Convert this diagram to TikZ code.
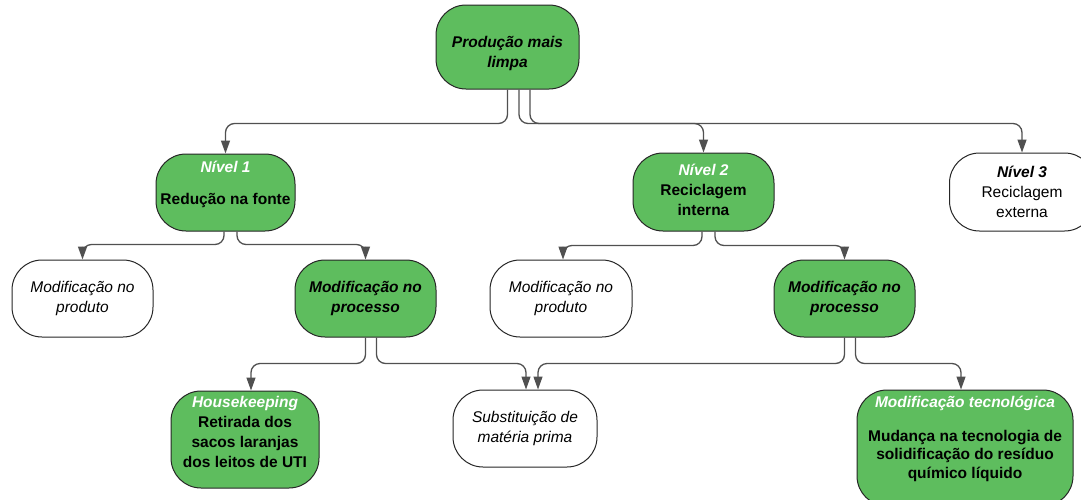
\documentclass[tikz,border=0pt]{standalone}
\usepackage{fontspec}
\setmainfont{Liberation Sans}
\usepackage{xcolor}
\usetikzlibrary{positioning,arrows.meta}
\definecolor{leafgreen}{RGB}{94,189,94}
\definecolor{edgegray}{RGB}{80,80,80}
\newcommand\chartfont{\fontsize{15.5}{20}\selectfont}

\begin{document}
\begin{tikzpicture}[
    x=1pt, y=-1pt,
    box/.style={rectangle, draw=black!85, line width=1pt, fill=white, rounded corners=30pt, align=center, inner sep=2pt, font=\chartfont, minimum width=141pt, minimum height=77pt},
    greenbox/.style={box, fill=leafgreen},
    bolditalic/.style={font=\chartfont\bfseries\itshape},
    boldtext/.style={font=\chartfont\bfseries},
    italictext/.style={font=\chartfont\itshape},
    arrow/.style={-{Triangle[width=9pt,length=13pt]}, draw=edgegray, line width=1.3pt, rounded corners=9pt}
]
    \useasboundingbox (0,0) rectangle (1081,499);

    \node[greenbox, bolditalic, minimum width=143pt, minimum height=84pt] (pml) at (507.5,47) {\rule{0pt}{24pt}Produção mais\\limpa};
    \node[greenbox, boldtext, minimum width=139pt] (nivel1) at (225.5,192.5) {{\color{white}\itshape Nível 1}\\[12pt]Redução na fonte\rule[-20pt]{0pt}{0pt}};
    \node[greenbox, boldtext, minimum height=78pt] (nivel2) at (703.5,192) {{\color{white}\itshape Nível 2}\\Reciclagem\\interna\rule[-5pt]{0pt}{0pt}};
    \node[box, minimum width=145pt, minimum height=78pt] (nivel3) at (1022,192) {{\bfseries\itshape Nível 3}\\Reciclagem\\externa};

    \node[box, italictext] (prodA) at (82.5,298.5) {Modificação no\\produto};
    \node[greenbox, bolditalic] (procA) at (365.5,298.5) {Modificação no\\processo};
    \node[box, italictext, minimum width=142pt] (prodB) at (561,298.5) {Modificação no\\produto};
    \node[greenbox, bolditalic] (procB) at (844.5,298.5) {Modificação no\\processo};

    \node[greenbox, boldtext, minimum width=148pt, minimum height=97pt] (house) at (245,439.5) {{\color{white}\itshape Housekeeping}\\Retirada dos\\sacos laranjas\\dos leitos de UTI\rule[-15pt]{0pt}{0pt}};
    \node[box, italictext, minimum width=144pt] (subst) at (525,428.5) {Substituição de\\matéria prima};
    \node[greenbox, font=\fontsize{15.5}{18.5}\selectfont\bfseries, minimum width=216pt, minimum height=116pt] (tecno) at (965,448) {{\color{white}\itshape Modificação tecnológica}\\[15.5pt]Mudança na tecnologia de\\solidificação do resíduo\\químico líquido\rule[-22pt]{0pt}{0pt}};

    \draw[arrow] (pml.south) -- ++(0,34) -| (nivel1.north);
    \draw[arrow] ([xshift=11.5pt]pml.south) -- ++(0,34) -| (nivel2.north);
    \draw[arrow] ([xshift=22.5pt]pml.south) -- ++(0,34) -| (nivel3.north);

    \draw[arrow] ([xshift=-1.5pt]nivel1.south) -- ++(0,13) -| (prodA.north);
    \draw[arrow] ([xshift=11.5pt]nivel1.south) -- ++(0,13) -| (procA.north);
    \draw[arrow] ([xshift=-1.5pt]nivel2.south) -- ++(0,14) -| ([xshift=2pt]prodB.north);
    \draw[arrow] ([xshift=11.5pt]nivel2.south) -- ++(0,14) -| (procB.north);

    \draw[arrow] (procA.south) -- ++(0,26) -| ([xshift=6pt]house.north);
    \draw[arrow] ([xshift=11pt]procA.south) -- ++(0,26) -| ([xshift=1pt]subst.north);
    \draw[arrow] (procB.south) -- ++(0,26) -| ([xshift=13pt]subst.north);
    \draw[arrow] ([xshift=11pt]procB.south) -- ++(0,26) -| ([xshift=-4pt]tecno.north);
\end{tikzpicture}
\end{document}
